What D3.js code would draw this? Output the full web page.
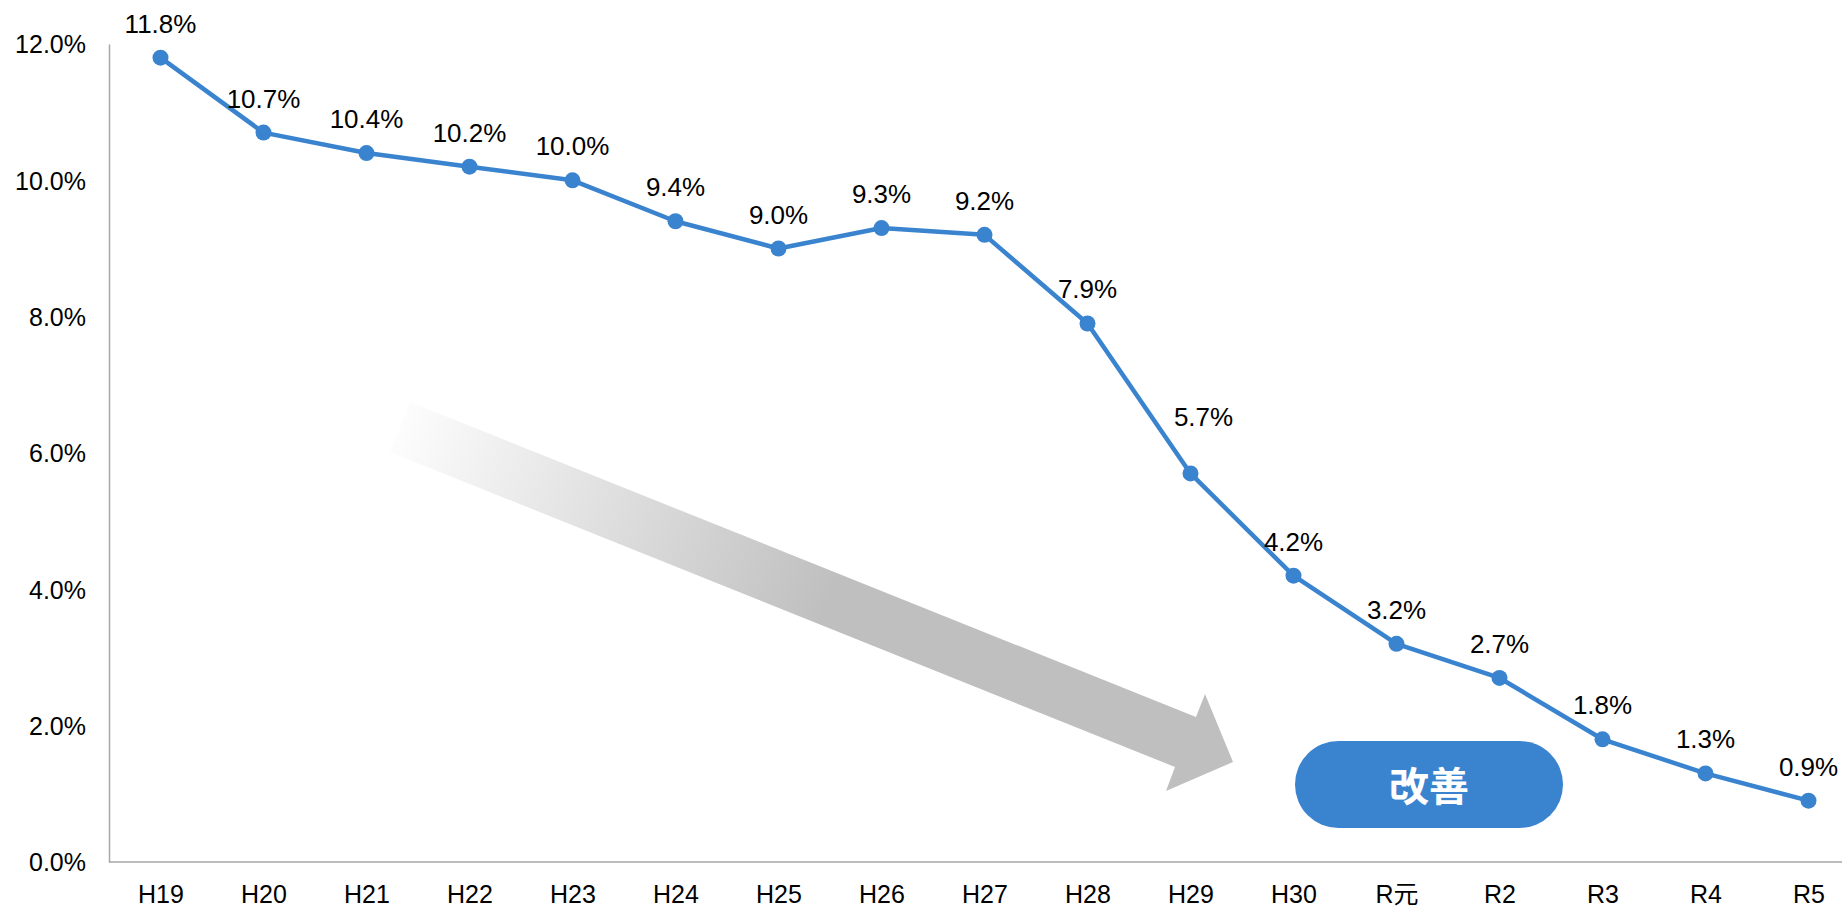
<!DOCTYPE html>
<html>
<head>
<meta charset="utf-8">
<script src="https://cdn.jsdelivr.net/npm/d3@7"></script>
<style>
  html, body { margin: 0; padding: 0; background: #fff; }
  svg { display: block; }
  text { font-family: "Liberation Sans", Arial, "Noto Sans CJK JP", sans-serif; fill: #000; }
</style>
</head>
<body>
<script>
const years = ['H19', 'H20', 'H21', 'H22', 'H23', 'H24', 'H25', 'H26', 'H27', 'H28', 'H29', 'H30', 'R元', 'R2', 'R3', 'R4', 'R5']
const rates = [11.8, 10.7, 10.4, 10.2, 10.0, 9.4, 9.0, 9.3, 9.2, 7.9, 5.7, 4.2, 3.2, 2.7, 1.8, 1.3, 0.9]
const yTicks = [0, 2, 4, 6, 8, 10, 12]
const badgeText = '改善'

const width = 1842
const height = 908
const blue = '#3a84cf'

const data = years.map((year, i) => ({year, value: rates[i]}))

const svg = d3.select('body')
  .append('svg')
  .attr('width', width)
  .attr('height', height)

const x = d3.scalePoint()
  .domain(years)
  .range([109, 1860])
  .padding(0.5)

const y = d3.scaleLinear()
  .domain([0, 12])
  .range([862, 44])

// gradient for the big arrow
const grad = svg.append('defs')
  .append('linearGradient')
  .attr('id', 'arrowFill')
  .attr('gradientUnits', 'userSpaceOnUse')
  .attr('x1', 385).attr('y1', 420)
  .attr('x2', 830).attr('y2', 600)
grad.append('stop').attr('offset', 0).attr('stop-color', '#ffffff')
grad.append('stop').attr('offset', 1).attr('stop-color', '#bfbfbf')

const arrow = [[410, 402], [1196, 717], [1205, 694], [1233, 762], [1166, 791], [1175, 767], [390, 452]]
svg.append('polygon')
  .attr('points', arrow.map((p) => p.join(',')).join(' '))
  .attr('fill', 'url(#arrowFill)')

// axes
const yAxis = svg.append('g')
  .attr('transform', `translate(${x.range()[0]},0)`)
  .call(d3.axisLeft(y).tickValues(yTicks).tickSize(0).tickFormat((d) => d.toFixed(1) + '%'))
yAxis.select('.domain').attr('stroke', '#a6a6a6').attr('stroke-width', 1.5)
yAxis.selectAll('.tick text')
  .attr('x', -23)
  .attr('dy', '0.35em')
  .style('font-size', '25px')
  .attr('fill', '#000')

const xAxis = svg.append('g')
  .attr('transform', `translate(0,${y(0)})`)
  .call(d3.axisBottom(x).tickSize(0))
xAxis.select('.domain')
  .attr('d', `M${x.range()[0]},0H${width}`)
  .attr('stroke', '#a6a6a6')
  .attr('stroke-width', 1.5)
xAxis.selectAll('.tick text')
  .attr('y', 41)
  .attr('dy', 0)
  .style('font-size', '25px')
  .attr('fill', '#000')

// series
const line = d3.line()
  .x((d) => x(d.year))
  .y((d) => y(d.value))

svg.append('path')
  .datum(data)
  .attr('d', line)
  .attr('fill', 'none')
  .attr('stroke', blue)
  .attr('stroke-width', 4.5)
  .attr('stroke-linejoin', 'round')

svg.selectAll('.dot')
  .data(data)
  .enter()
  .append('circle')
  .classed('dot', true)
  .attr('cx', (d) => x(d.year))
  .attr('cy', (d) => y(d.value))
  .attr('r', 8)
  .attr('fill', blue)

// one label was moved by hand in the original
const nudge = {H29: [13, -22]}

svg.selectAll('.label')
  .data(data)
  .enter()
  .append('text')
  .classed('label', true)
  .attr('transform', (d) => {
    const [dx, dy] = nudge[d.year] || [0, 0]
    return `translate(${x(d.year) + dx},${y(d.value) - 25 + dy})`
  })
  .attr('text-anchor', 'middle')
  .style('font-size', '26px')
  .text((d) => d.value.toFixed(1) + '%')

// badge
const badge = svg.append('g')
  .attr('transform', 'translate(1429,784.5)')
badge.append('rect')
  .attr('x', -134)
  .attr('y', -43.5)
  .attr('width', 268)
  .attr('height', 87)
  .attr('rx', 43.5)
  .attr('fill', blue)
badge.append('text')
  .attr('text-anchor', 'middle')
  .attr('dy', '0.4em')
  .style('font-family', '"Noto Sans CJK JP", sans-serif')
  .style('font-weight', 'bold')
  .style('font-size', '40px')
  .style('fill', '#fff')
  .text(badgeText)
</script>
</body>
</html>
